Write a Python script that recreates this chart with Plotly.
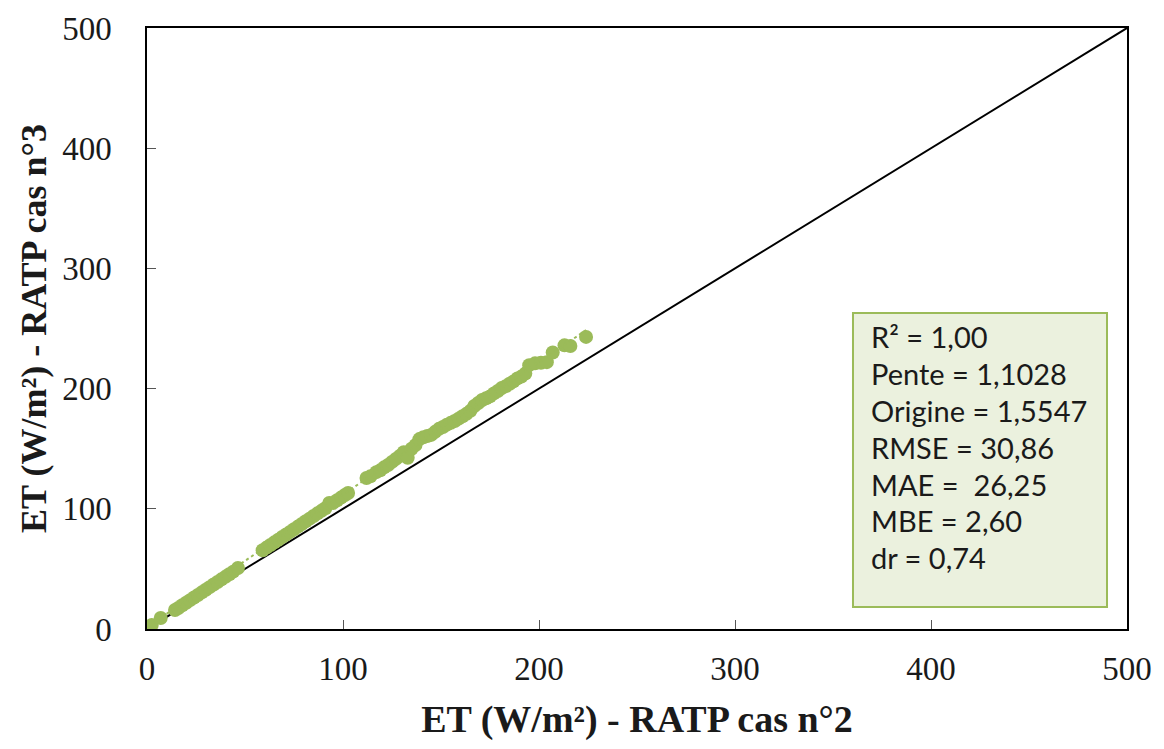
import plotly.graph_objects as go

# Data (ET, W/m²)
x_cas2 = [2.4, 7.0,
          14.3, 16, 18, 20, 22, 24, 26, 28, 30, 32, 34, 36, 38, 40, 42, 44, 46.4,
          59, 61, 63, 65, 67, 69, 71, 73, 75, 77, 79, 81, 83, 85, 87, 89, 91, 93, 95, 97, 99, 101, 102.6,
          112, 114, 117, 119, 121, 123, 125, 127, 129, 131, 133, 135, 137, 139, 141, 143, 145, 147, 149,
          151, 153, 155, 157, 159, 161, 163, 165, 167, 169, 171, 173, 175, 177, 179, 181, 183, 185, 187,
          189, 191, 193, 195, 198, 201, 204, 207, 213, 216, 224]
y_cas3 = [3.3, 9.2,
          15.8, 17.5, 19.7, 21.9, 24.0, 26.2, 28.3, 30.5, 32.6, 34.8, 37.0, 39.1, 41.3, 43.4, 45.6, 47.7, 50.7,
          65.5, 67.7, 69.9, 72.1, 74.3, 76.5, 78.6, 80.8, 83.0, 85.2, 87.4, 89.6, 91.8, 94.0, 96.2, 98.3, 100.5, 104.8, 104.9, 107.1, 109.3, 111.5, 113.1,
          125.6, 127.0, 130.5, 132.0, 134.5, 136.5, 139.0, 141.5, 144.0, 147.0, 142.5, 150.0, 153.0, 158.0, 159.5, 160.5, 161.5, 164.0, 166.5,
          168.0, 170.0, 171.5, 173.0, 175.0, 177.0, 179.0, 181.5, 185.5, 188.0, 190.5, 192.0, 193.5, 196.0, 198.0, 200.5, 202.0, 204.0, 206.0,
          208.5, 210.0, 212.5, 219.5, 221.0, 221.5, 222.0, 230.0, 236.0, 235.5, 243.0]

# Regression stats shown in the box
slope = 1.1028
intercept = 1.5547
stats_lines = ["R² = 1,00", "Pente = 1,1028", "Origine = 1,5547", "RMSE = 30,86",
               "MAE =  26,25", "MBE = 2,60", "dr = 0,74"]

axis_range = [0, 500]
tick_vals = [0, 100, 200, 300, 400, 500]

green = "#9BBB59"

fig = go.Figure()

# 1:1 line
fig.add_trace(go.Scatter(x=axis_range, y=axis_range, mode="lines",
                         line=dict(color="black", width=2), hoverinfo="skip", showlegend=False))

# scatter points
fig.add_trace(go.Scatter(x=x_cas2, y=y_cas3, mode="markers",
                         marker=dict(color=green, size=14, line=dict(width=0)),
                         showlegend=False))

# linear trendline (dotted)
tx = [min(x_cas2), max(x_cas2)]
ty = [slope * v + intercept for v in tx]
fig.add_trace(go.Scatter(x=tx, y=ty, mode="lines",
                         line=dict(color=green, width=2, dash="dot"), hoverinfo="skip", showlegend=False))

# stats box
box_x0, box_x1 = 0.7204, 0.9796
box_y0, box_y1 = 0.0366, 0.5258
fig.add_shape(type="rect", xref="paper", yref="paper", x0=box_x0, x1=box_x1, y0=box_y0, y1=box_y1,
              fillcolor="#EBF1DE", line=dict(color=green, width=2), layer="above")
line_top = 0.4860
line_step = 0.0612
for i, t in enumerate(stats_lines):
    fig.add_annotation(xref="paper", yref="paper", x=0.7367, y=line_top - i * line_step,
                       xanchor="left", yanchor="middle", text=t, showarrow=False,
                       font=dict(family="Lato, Carlito, Calibri, sans-serif", size=29, color="#1a1a1a"))

axis_common = dict(range=axis_range, tickvals=tick_vals, ticks="inside", ticklen=9, tickwidth=1,
                   tickcolor="#555555", showline=True, linecolor="black", linewidth=1.5, mirror=True,
                   showgrid=False, zeroline=False,
                   tickfont=dict(family="Liberation Serif, Times New Roman, serif", size=33, color="#1a1a1a"))

fig.update_layout(
    width=1164, height=749,
    margin=dict(l=147, r=37, t=28, b=120),
    paper_bgcolor="white", plot_bgcolor="white",
    xaxis=dict(**axis_common, ticklabelstandoff=10,
               title=dict(text="<b>ET (W/m²) - RATP cas n°2</b>", standoff=19,
                          font=dict(family="Liberation Serif, Times New Roman, serif", size=38, color="#1a1a1a"))),
    yaxis=dict(**axis_common, ticklabelstandoff=27,
               title=dict(text="<b>ET (W/m²) - RATP cas n°3</b>", standoff=5,
                          font=dict(family="Liberation Serif, Times New Roman, serif", size=36, color="#1a1a1a"))),
)

fig.write_html("out.html", config={"displayModeBar": False},
               post_script="document.body.style.margin='0';document.body.style.overflow='hidden';")
